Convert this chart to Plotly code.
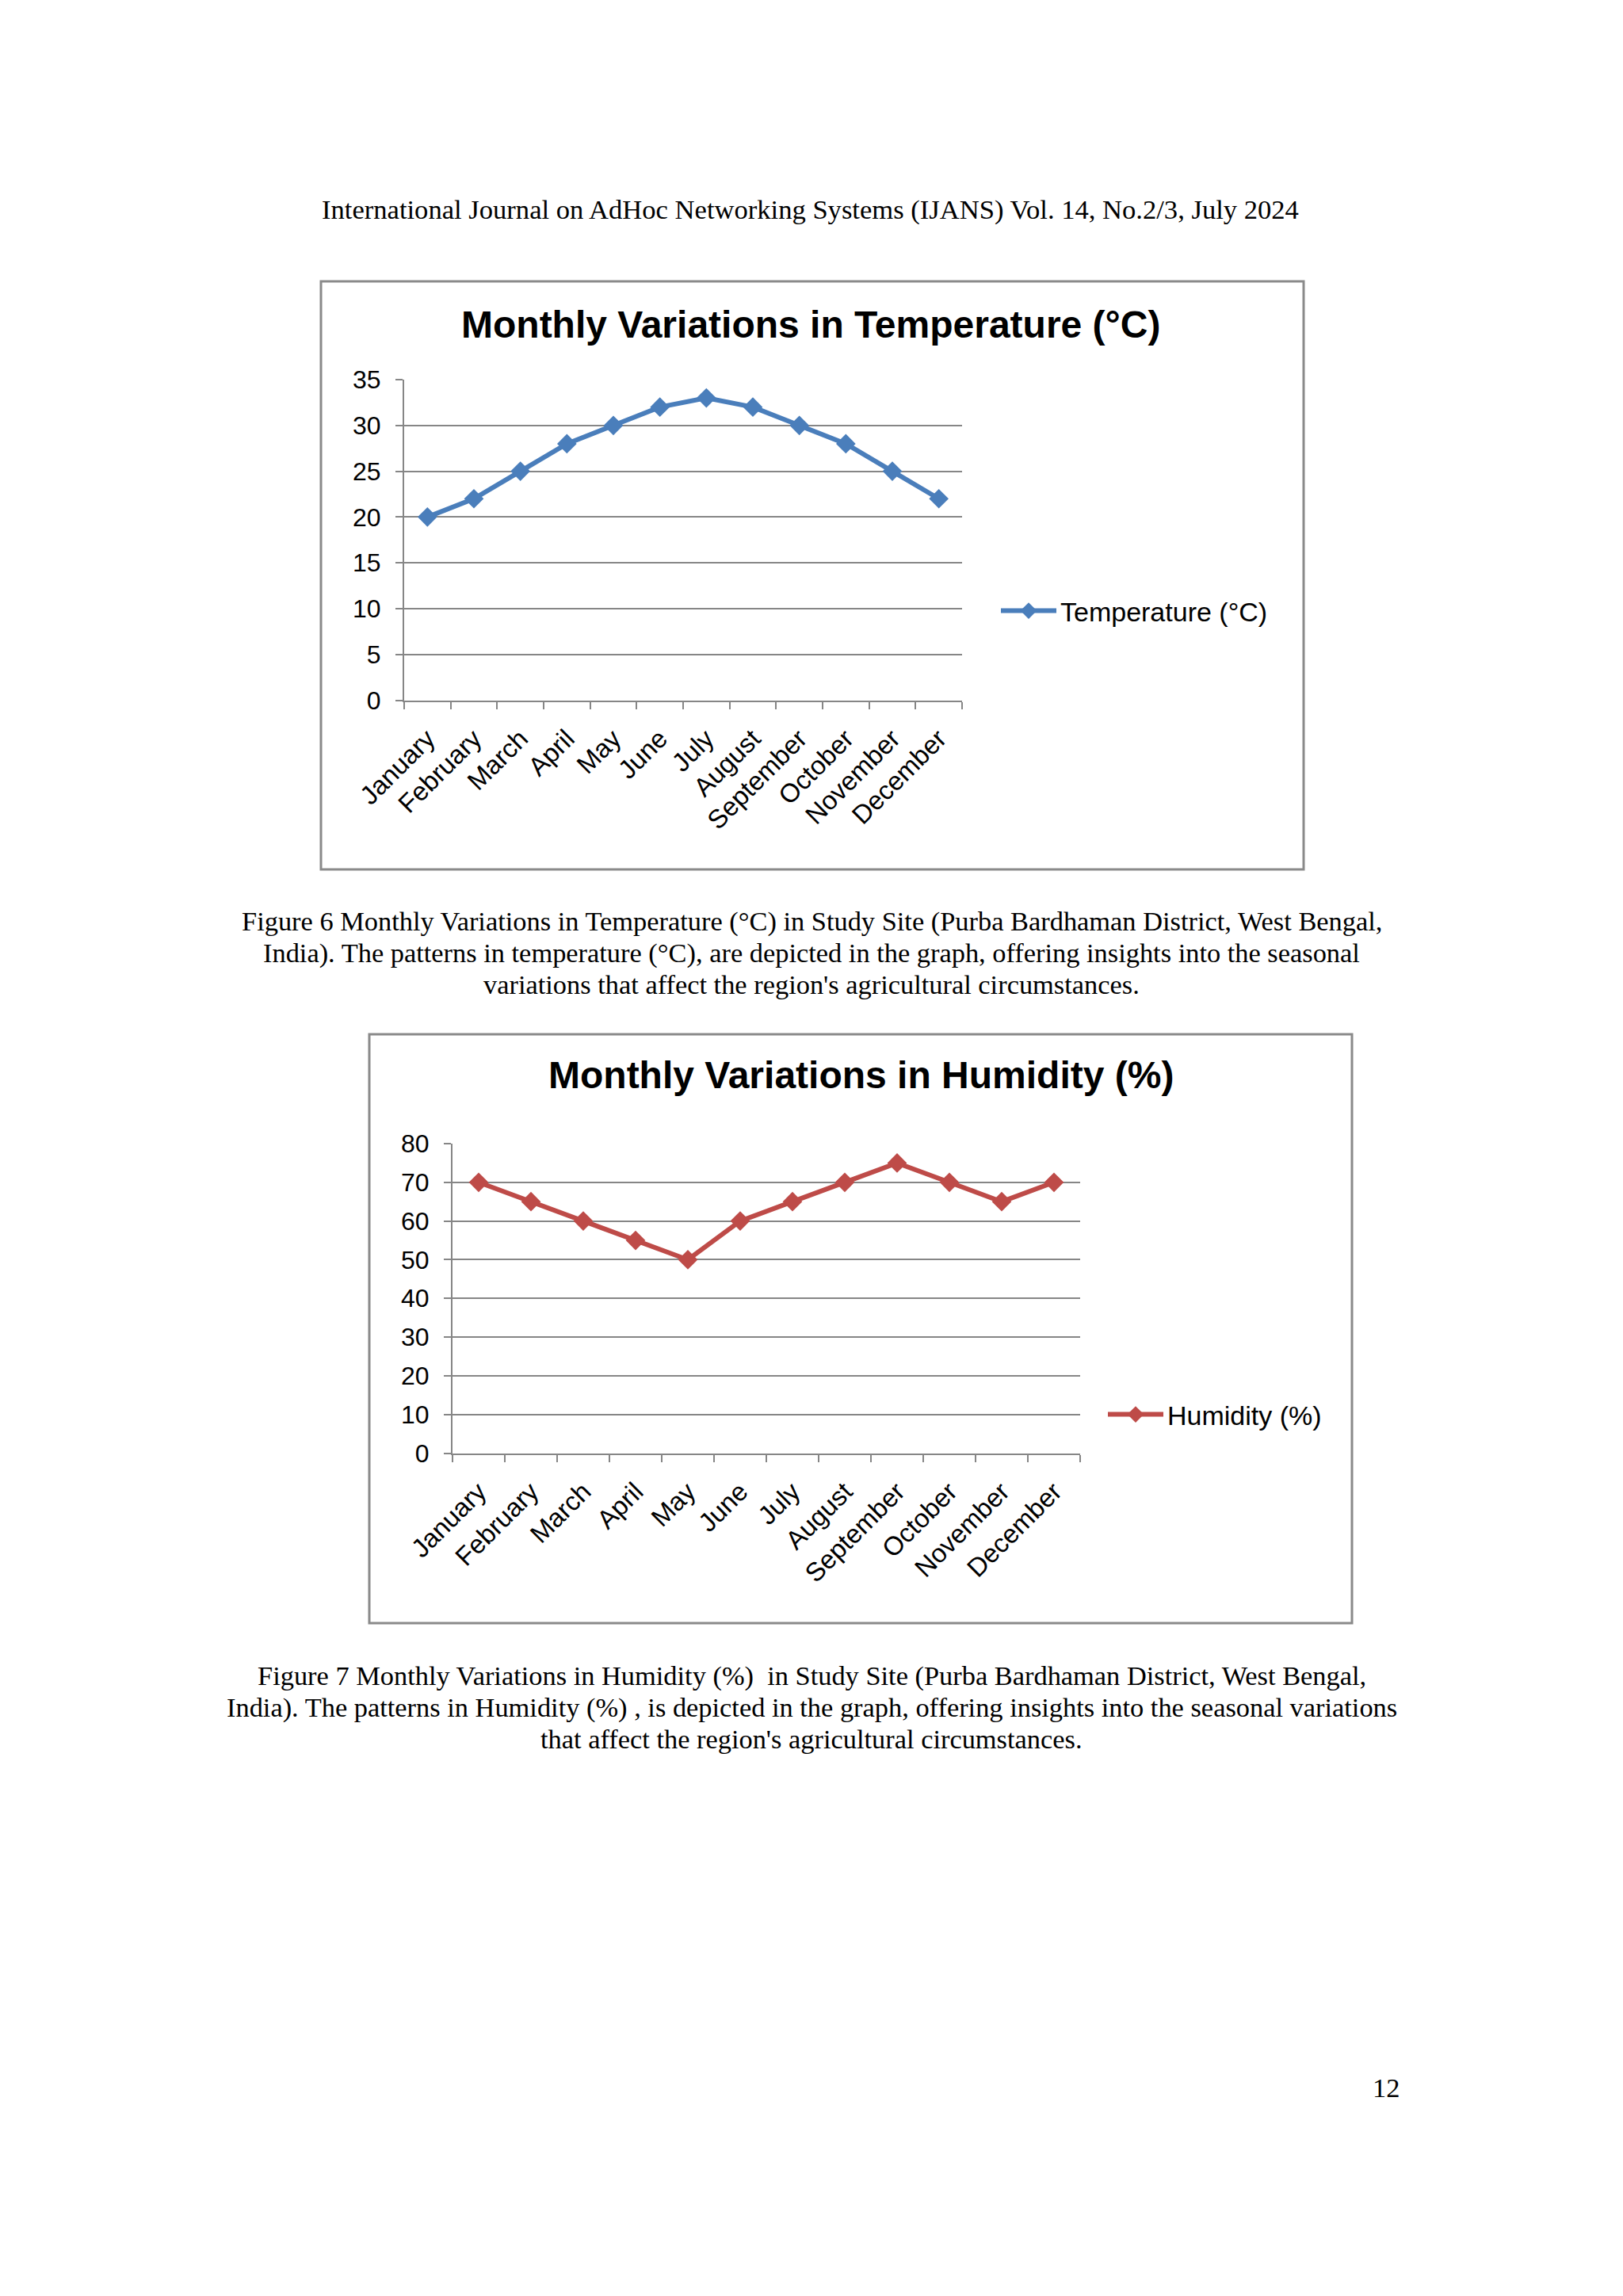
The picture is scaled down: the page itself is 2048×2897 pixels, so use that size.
import plotly.graph_objects as go

W, H = 2048, 2897
OFF = 8  # page body margin of the html page

months = ["January", "February", "March", "April", "May", "June", "July",
          "August", "September", "October", "November", "December"]
temperature = [20, 22, 25, 28, 30, 32, 33, 32, 30, 28, 25, 22]
humidity = [70, 65, 60, 55, 50, 60, 65, 70, 75, 70, 65, 70]

temp_name = "Temperature (°C)"
hum_name = "Humidity (%)"
temp_title = "Monthly Variations in Temperature (°C)"
hum_title = "Monthly Variations in Humidity (%)"

header = "International Journal on AdHoc Networking Systems (IJANS) Vol. 14, No.2/3, July 2024"
caption6 = ["Figure 6 Monthly Variations in Temperature (°C) in Study Site (Purba Bardhaman District, West Bengal,",
            "India). The patterns in temperature (°C), are depicted in the graph, offering insights into the seasonal",
            "variations that affect the region's agricultural circumstances."]
caption7 = ["Figure 7 Monthly Variations in Humidity (%)  in Study Site (Purba Bardhaman District, West Bengal,",
            "India). The patterns in Humidity (%) , is depicted in the graph, offering insights into the seasonal variations",
            "that affect the region's agricultural circumstances."]
page_no = "12"

BLUE = "#4A7EBB"
RED = "#BE4B48"
GRID = "#868686"
FRAME = "#8A8A8A"
SANS = "Liberation Sans, Arial, sans-serif"
SERIF = "Liberation Serif, Times New Roman, serif"


def px(x):
    return (x - OFF) / W


def py(y):
    return 1 - (y - OFF) / H


fig = go.Figure()
fig.add_trace(go.Scatter(x=months, y=temperature, name=temp_name, mode="lines+markers",
                         line=dict(color=BLUE, width=6),
                         marker=dict(symbol="diamond", size=19, color=BLUE),
                         xaxis="x", yaxis="y", legend="legend"))
fig.add_trace(go.Scatter(x=months, y=humidity, name=hum_name, mode="lines+markers",
                         line=dict(color=RED, width=6),
                         marker=dict(symbol="diamond", size=19, color=RED),
                         xaxis="x2", yaxis="y2", legend="legend2"))

xcommon = dict(type="category", range=[-0.5, 11.5], showline=True, linecolor=GRID, linewidth=2,
               ticks="outside", tickson="boundaries", ticklen=9, tickcolor=GRID, tickwidth=2,
               showgrid=False, zeroline=False, tickangle=-45, automargin=False,
               ticklabelstandoff=14,
               tickfont=dict(family=SANS, size=33, color="black"), fixedrange=True)
ycommon = dict(showline=True, linecolor=GRID, linewidth=2, ticks="outside", ticklen=9,
               tickcolor=GRID, tickwidth=2, showgrid=True, gridcolor=GRID, gridwidth=2,
               zeroline=False, tickfont=dict(family=SANS, size=32, color="black"),
               ticklabelstandoff=12, fixedrange=True, automargin=False)

fig.update_layout(
    template="none",
    width=W, height=H, autosize=False,
    margin=dict(l=0, r=0, t=0, b=0, pad=0, autoexpand=False),
    paper_bgcolor="white", plot_bgcolor="white",
    xaxis=dict(xcommon, domain=[px(510), px(1214)], anchor="y"),
    yaxis=dict(ycommon, domain=[py(883.5), py(479)], anchor="x", range=[0, 35], dtick=5),
    xaxis2=dict(xcommon, domain=[px(571), px(1363)], anchor="y2"),
    yaxis2=dict(ycommon, domain=[py(1833.5), py(1443)], anchor="x2", range=[0, 80], dtick=10),
    legend=dict(x=px(1258), y=py(771), xanchor="left", yanchor="middle", itemwidth=70,
                font=dict(family=SANS, size=34, color="black"), bgcolor="rgba(0,0,0,0)"),
    legend2=dict(x=px(1393), y=py(1785), xanchor="left", yanchor="middle", itemwidth=70,
                 font=dict(family=SANS, size=34, color="black"), bgcolor="rgba(0,0,0,0)"),
    showlegend=True,
)

# chart frames
for (x0, y0, x1, y1) in [(405, 355, 1645, 1097), (466, 1305, 1706, 2048)]:
    fig.add_shape(type="rect", xref="paper", yref="paper",
                  x0=px(x0), x1=px(x1), y0=py(y1), y1=py(y0),
                  line=dict(color=FRAME, width=3), fillcolor="rgba(0,0,0,0)", layer="below")

anns = []
anns.append(dict(text="<b>" + temp_title + "</b>", x=px(1023), y=py(409),
                 font=dict(family=SANS, size=48, color="black")))
anns.append(dict(text="<b>" + hum_title + "</b>", x=px(1086), y=py(1356),
                 font=dict(family=SANS, size=48, color="black")))
anns.append(dict(text=header, x=px(1022), y=py(264), font=dict(family=SERIF, size=34.6, color="black")))
for i, line in enumerate(caption6):
    anns.append(dict(text=line, x=px(1024), y=py(1162 + 40 * i), font=dict(family=SERIF, size=34.4, color="black")))
for i, line in enumerate(caption7):
    anns.append(dict(text=line, x=px(1024), y=py(2114 + 40 * i), font=dict(family=SERIF, size=34.4, color="black")))
anns.append(dict(text=page_no, x=px(1749), y=py(2634), font=dict(family=SERIF, size=34.5, color="black")))

for a in anns:
    a.update(xref="paper", yref="paper", xanchor="center", yanchor="middle", showarrow=False)
fig.update_layout(annotations=anns)

fig.write_html("out.html")
